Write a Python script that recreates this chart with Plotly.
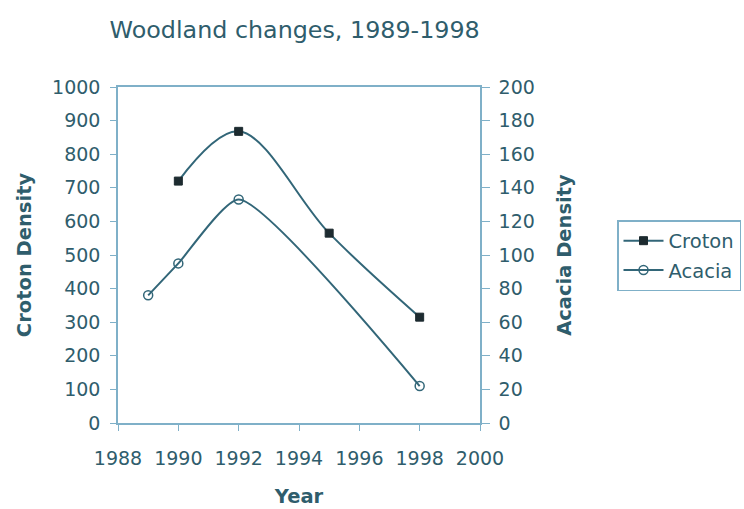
import plotly.graph_objects as go

# Woodland density survey data
croton_years = [1990, 1992, 1995, 1998]
croton_density = [720, 868, 565, 315]

acacia_years = [1989, 1990, 1992, 1998]
acacia_density = [76, 95, 133, 22]

x_ticks = [1988, 1990, 1992, 1994, 1996, 1998, 2000]
left_ticks = list(range(0, 1001, 100))
right_ticks = list(range(0, 201, 20))

TEXT = "#2f5d6c"
LINE = "#326678"
AXIS = "#7fb0c8"
FONT = "DejaVu Sans"

W, H = 744, 509
L, R, T, B = 118, 264, 87, 86

fig = go.Figure()

fig.add_trace(go.Scatter(
    x=croton_years, y=croton_density, name="Croton", legendgroup="croton",
    mode="lines+markers", line=dict(color=LINE, width=2, shape="spline", smoothing=1.0),
    marker=dict(symbol="square", size=8, color="#1d2b30", line=dict(color="#1d2b30", width=1)),
    yaxis="y",
))
fig.add_trace(go.Scatter(
    x=acacia_years, y=acacia_density, name="Acacia", legendgroup="acacia",
    mode="lines+markers", line=dict(color=LINE, width=2, shape="spline", smoothing=0.55),
    marker=dict(symbol="circle-open", size=9, color=LINE, line=dict(width=1.5)),
    yaxis="y2",
))

axis_title_font = dict(family=FONT, size=19.5, color=TEXT)

fig.update_layout(
    width=W, height=H,
    margin=dict(l=L, r=R, t=T, b=B),
    paper_bgcolor="white", plot_bgcolor="white",
    font=dict(family=FONT, size=19, color=TEXT),
    title=dict(text="Woodland changes, 1989-1998", font=dict(size=23.8, color=TEXT),
               x=0.488, xref="paper", xanchor="center", y=1 - 30 / H, yanchor="middle"),
    xaxis=dict(range=[1988, 2000], tickvals=x_ticks, ticktext=[str(v) for v in x_ticks],
               showline=True, linecolor=AXIS, linewidth=1.5, mirror=True,
               ticks="outside", ticklen=6, tickcolor=AXIS, ticklabelstandoff=11,
               showgrid=False, zeroline=False, automargin=False,
               title=dict(text="<b>Year</b>", standoff=22, font=axis_title_font)),
    yaxis=dict(range=[0, 1000], tickvals=left_ticks, showline=True, linecolor=AXIS, linewidth=1.5,
               ticks="outside", ticklen=6, tickcolor=AXIS, ticklabelstandoff=6,
               showgrid=False, zeroline=False, automargin=False,
               title=dict(text="<b>Croton Density</b>", standoff=15, font=axis_title_font)),
    yaxis2=dict(range=[0, 200], tickvals=right_ticks, overlaying="y", side="right",
                showline=True, linecolor=AXIS, linewidth=1.5,
                ticks="outside", ticklen=8, tickcolor=AXIS, ticklabelstandoff=5,
                showgrid=False, zeroline=False, automargin=False,
                title=dict(text="<b>Acacia Density</b>", standoff=23.5, font=axis_title_font)),
    yaxis3=dict(range=[0, 200], tickvals=right_ticks, overlaying="y", side="right",
                showticklabels=False, ticks="inside", ticklen=7, tickcolor=AXIS,
                showgrid=False, zeroline=False, showline=False, automargin=False),
    legend=dict(xref="container", yref="container", x=617 / W, y=1 - 220 / H,
                xanchor="left", yanchor="top",
                bordercolor=AXIS, borderwidth=1.5, bgcolor="white", itemwidth=40,
                font=dict(size=19.5, color=TEXT), tracegroupgap=1),
    showlegend=True,
)

fig.write_html("out.html")
